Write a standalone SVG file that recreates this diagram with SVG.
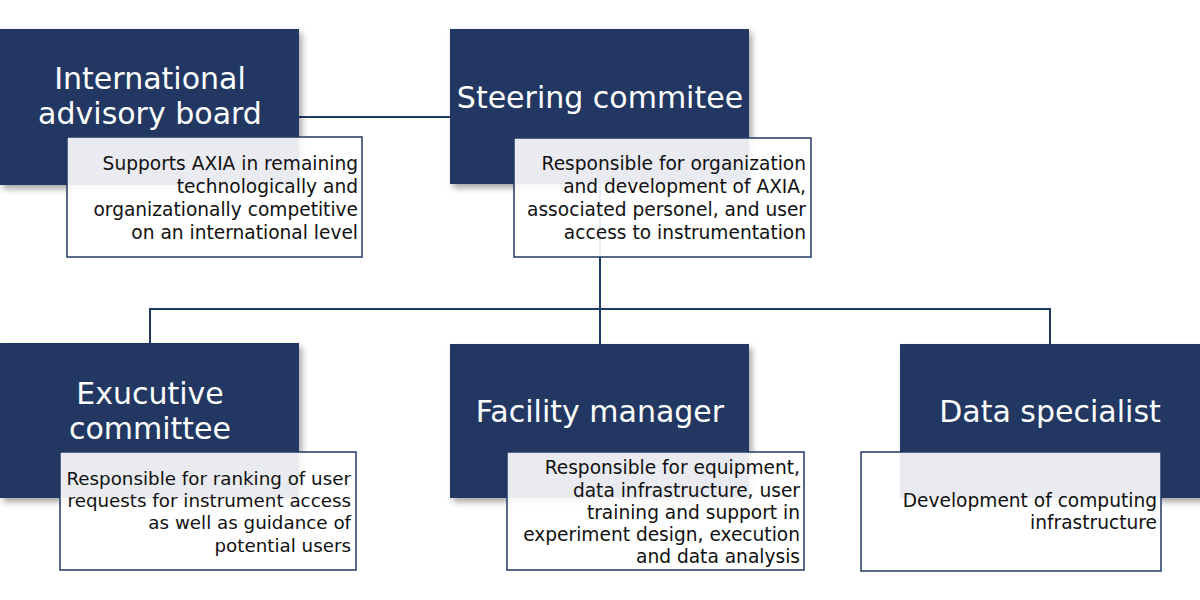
<svg xmlns="http://www.w3.org/2000/svg" width="1200" height="600" viewBox="0 0 1200 600">
<defs>
<filter id="sh" x="-10%" y="-10%" width="125%" height="130%">
<feDropShadow dx="3" dy="4" stdDeviation="3" flood-color="#000" flood-opacity="0.35"/>
</filter>
<style>
.nb{fill:#203864;filter:url(#sh)}
.wb{fill:#fff;fill-opacity:0.9;stroke:#203864;stroke-width:1.5}
.t{font-family:"DejaVu Sans",Arial,sans-serif;font-size:30px;fill:#fff;text-anchor:middle}
.d{font-family:"DejaVu Sans",Arial,sans-serif;font-size:18.6px;fill:#111;text-anchor:end}
.s{font-size:18.3px}
.c{fill:none;stroke:#203864;stroke-width:2}
</style>
</defs>
<rect width="1200" height="600" fill="#fff"/>
<g id="connectors">
<line class="c" x1="299" y1="117" x2="450" y2="117"/>
<line class="c" x1="600" y1="184" x2="600" y2="309"/>
<polyline class="c" points="150,343 150,309 1050,309 1050,344"/>
<line class="c" x1="600" y1="309" x2="600" y2="344"/>
</g>
<g id="node-advisory">
<rect class="nb" x="0" y="29" width="299" height="156"/>
<text class="t" x="150" y="89">International</text>
<text class="t" x="150" y="124">advisory board</text>
<rect class="wb" x="67" y="137" width="295" height="120"/>
<text class="d" x="358" y="170">Supports AXIA in remaining</text>
<text class="d" x="358" y="193">technologically and</text>
<text class="d" x="358" y="216">organizationally competitive</text>
<text class="d" x="358" y="239">on an international level</text>
</g>
<g id="node-steering">
<rect class="nb" x="450" y="29" width="299" height="155"/>
<text class="t" x="600" y="108">Steering commitee</text>
<rect class="wb" x="514" y="138" width="297" height="119"/>
<text class="d" x="806" y="170">Responsible for organization</text>
<text class="d" x="806" y="193">and development of AXIA,</text>
<text class="d" x="806" y="216">associated personel, and user</text>
<text class="d" x="806" y="239">access to instrumentation</text>
</g>
<g id="node-executive">
<rect class="nb" x="0" y="343" width="299" height="155"/>
<text class="t" x="150" y="404">Exucutive</text>
<text class="t" x="150" y="439">committee</text>
<rect class="wb" x="60" y="452" width="296" height="118"/>
<text class="d s" x="351" y="485">Responsible for ranking of user</text>
<text class="d s" x="351" y="507">requests for instrument access</text>
<text class="d s" x="351" y="529">as well as guidance of</text>
<text class="d s" x="351" y="552">potential users</text>
</g>
<g id="node-facility">
<rect class="nb" x="450" y="344" width="299" height="154"/>
<text class="t" x="600" y="422">Facility manager</text>
<rect class="wb" x="507" y="452" width="297" height="118"/>
<text class="d" x="800" y="474">Responsible for equipment,</text>
<text class="d" x="800" y="497">data infrastructure, user</text>
<text class="d" x="800" y="519">training and support in</text>
<text class="d" x="800" y="541">experiment design, execution</text>
<text class="d" x="800" y="563">and data analysis</text>
</g>
<g id="node-data">
<rect class="nb" x="900" y="344" width="302" height="154"/>
<text class="t" x="1050" y="422">Data specialist</text>
<rect class="wb" x="861" y="452" width="300" height="119"/>
<text class="d" x="1157" y="507">Development of computing</text>
<text class="d" x="1157" y="529">infrastructure</text>
</g>
</svg>
